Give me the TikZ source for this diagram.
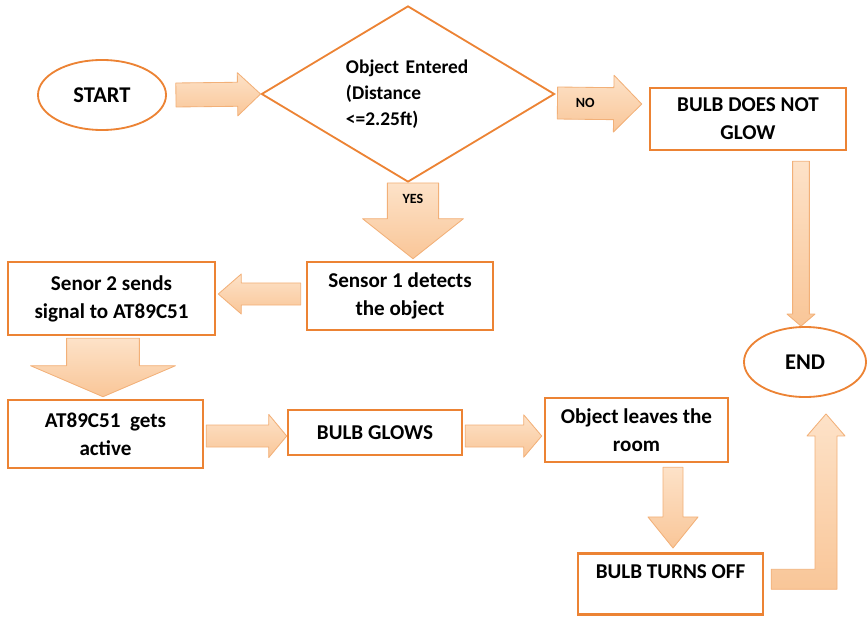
\documentclass[tikz,border=0pt]{standalone}
\usepackage{fontspec}
\setmainfont{Carlito}
\usetikzlibrary{shapes.geometric,calc}

\definecolor{boxline}{RGB}{236,131,52}
\definecolor{arrowfill}{RGB}{249,198,152}
\definecolor{arrowtop}{RGB}{253,226,200}
\definecolor{arrowline}{RGB}{242,176,120}

\tikzset{
  box/.style={draw=boxline, line width=1.8pt, fill=white, align=center, inner sep=0pt,
    font=\bfseries\fontsize{15}{20}\selectfont},
  terminal/.style={ellipse, draw=boxline, line width=1.3pt, inner sep=0pt,
    font=\bfseries\fontsize{16}{20}\selectfont},
  decision/.style={diamond, aspect=1.7, draw=boxline, line width=1.3pt, inner sep=0pt, text width=3.1cm,
    align=left, font=\bfseries\fontsize{13.8}{18.5}\selectfont},
  fat/.style={draw=arrowline, line width=0.6pt, top color=arrowtop, bottom color=arrowfill, line join=round},
  tag/.style={font=\bfseries\fontsize{10}{12}\selectfont}
}

% block arrow: from, to, shaft half width, head half width, head length
\newcommand{\blockarrow}[5]{
  \coordinate (ba-h) at ($(#2)!#5!(#1)$);
  \path[fat] ($(#1)!#3!90:(#2)$) -- ($(ba-h)!#3!90:(#2)$) -- ($(ba-h)!#4!90:(#2)$) -- (#2)
    -- ($(ba-h)!#4!-90:(#2)$) -- ($(ba-h)!#3!-90:(#2)$) -- ($(#1)!#3!-90:(#2)$) -- cycle;
}

\begin{document}
\begin{tikzpicture}[x=0.025cm, y=-0.025cm]
\useasboundingbox (0,0) rectangle (867,617);

% start and end
\node (start) at (102,95) [terminal, minimum width=3.2cm, minimum height=1.75cm] {START};
\node (stop) at (805,362) [terminal, minimum width=3.05cm, minimum height=1.75cm] {END};

% decision
\node (dec) at (408,94) [decision, minimum width=7.325cm, minimum height=4.4cm] {Object Entered\\(Distance\\<=2.25ft)};

% process boxes
\node (nog) at (748,119) [box, minimum width=4.9cm, minimum height=1.55cm] {BULB DOES NOT\\GLOW};
\node (s1) at (400,296) [box, minimum width=4.65cm, minimum height=1.7cm] {Sensor 1 detects\\the object};
\node (s2) at (111.5,298.5) [box, minimum width=5.175cm, minimum height=1.825cm] {Senor 2 sends\\signal to AT89C51};
\node (mcu) at (105.5,434) [box, minimum width=4.875cm, minimum height=1.7cm] {AT89C51\ \ gets\\active};
\node (glow) at (375,432.5) [box, minimum width=4.35cm, minimum height=1.125cm] {BULB GLOWS};
\node (leave) at (636.5,430) [box, minimum width=4.575cm, minimum height=1.6cm] {Object leaves the\\room};
\node (off) at (670.5,552) [box, anchor=north, minimum width=4.625cm, text height=0.625cm, text depth=0.9cm] {BULB TURNS OFF};

% start to decision
\coordinate (a1) at ([shift={(9,0)}]start.east);
\blockarrow{a1}{dec.west}{0.3cm}{0.54cm}{0.575cm}

% no branch
\coordinate (n1) at ([shift={(2,9)}]dec.east);
\coordinate (n2) at ([shift={(-7,-15)}]nog.west);
\blockarrow{n1}{n2}{0.4cm}{0.71cm}{0.7cm}
\node (no) [tag] at ($(n1)!0.33!(n2)$) {NO};

% yes branch
\coordinate (y1) at ([shift={(5,0)}]dec.south);
\coordinate (y2) at ([shift={(13,-2)}]s1.north);
\blockarrow{y1}{y2}{0.64cm}{1.26cm}{1.0cm}
\node (yes) [tag] at ($(y1)!0.21!(y2)$) {YES};

% sensor chain
\coordinate (b1) at ([shift={(-5,-2)}]s1.west);
\coordinate (b2) at ([shift={(2,-4.5)}]s2.east);
\blockarrow{b1}{b2}{0.275cm}{0.5cm}{0.575cm}
\coordinate (c1) at ([shift={(-8.5,2)}]s2.south);
\coordinate (c2) at ([shift={(-2.5,-2)}]mcu.north);
\blockarrow{c1}{c2}{0.91cm}{1.81cm}{0.775cm}

% bottom row
\coordinate (d1) at ([shift={(2,2)}]mcu.east);
\coordinate (d2) at ([shift={(0,3.5)}]glow.west);
\blockarrow{d1}{d2}{0.275cm}{0.54cm}{0.45cm}
\coordinate (f1) at ([shift={(2,3.5)}]glow.east);
\coordinate (f2) at ([shift={(-2,6)}]leave.west);
\blockarrow{f1}{f2}{0.275cm}{0.53cm}{0.45cm}
\coordinate (g1) at ([shift={(36.5,4)}]leave.south);
\coordinate (g2) at ([shift={(2.5,-4)}]off.north);
\blockarrow{g1}{g2}{0.25cm}{0.625cm}{0.775cm}

% into end
\coordinate (h1) at ([shift={(53,10)}]nog.south);
\coordinate (h2) at ([shift={(-4,0)}]stop.north);
\blockarrow{h1}{h2}{0.21cm}{0.35cm}{0.3cm}
\coordinate (e1) at ([shift={(7,-4.5)}]off.east);
\coordinate (e2) at ([shift={(21,16)}]stop.south);
\path[fat] ($(e1)+(0,-10)$) -- ($(e1 -| e2)+(-11,-10)$) -- ($(e2)+(-11,22)$) -- ($(e2)+(-19,22)$) -- (e2)
  -- ($(e2)+(19,22)$) -- ($(e2)+(11,22)$) -- ($(e1 -| e2)+(11,10)$) -- ($(e1)+(0,10)$) -- cycle;

\end{tikzpicture}
\end{document}
